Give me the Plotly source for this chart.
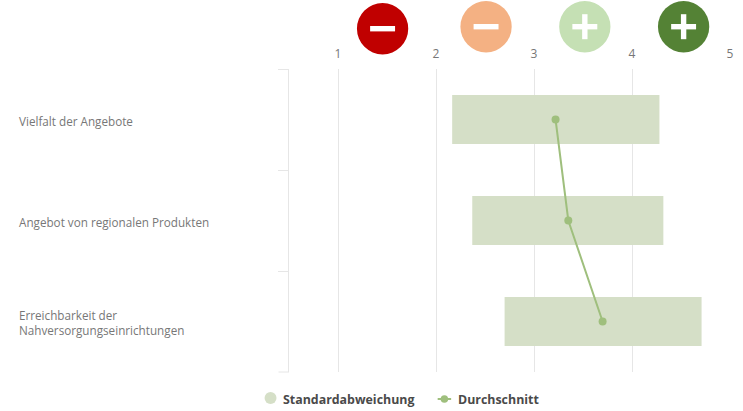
import plotly.graph_objects as go

# values
categories = ["Vielfalt der Angebote", "Angebot von regionalen Produkten", "Erreichbarkeit der<br>Nahversorgungseinrichtungen"]
sd_low = [2.165, 2.37, 2.70]
sd_high = [4.28, 4.32, 4.71]
mean_vals = [3.22, 3.35, 3.70]
x_ticks = [1, 2, 3, 4, 5]
sd_name = "Standardabweichung"
mean_name = "Durchschnitt"

W, H = 743, 411
L, R, T, B = 288.5, 730.5, 69, 372
BAND = "#d5dfc7"
MEAN = "#9fbf7d"
GRID = "#e6e6e6"

def px(x):
    return (x - L) / (R - L)

def py(y):
    return (B - y) / (B - T)

def paper_shape(kind, x0, x1, y0, y1, color):
    return dict(type=kind, xref="paper", yref="paper", layer="above",
                x0=px(x0), x1=px(x1), y0=py(y1), y1=py(y0),
                fillcolor=color, line=dict(width=0))

fig = go.Figure()

# standard deviation bands
fig.add_trace(go.Bar(
    y=categories, x=[h - l for l, h in zip(sd_low, sd_high)], base=sd_low,
    orientation="h", width=0.485, marker=dict(color=BAND, line=dict(width=0)),
    name=sd_name, showlegend=False,
))
fig.add_trace(go.Scatter(
    y=categories, x=mean_vals, mode="lines+markers", name=mean_name, showlegend=False,
    line=dict(color=MEAN, width=2), marker=dict(color=MEAN, size=8),
))

# the four rating icons above the axis
icons = [
    (382.3, 28.7, "#c00000", False),
    (486, 26.7, "#f4b183", False),
    (585, 26.7, "#c5e0b4", True),
    (684, 26.7, "#548235", True),
]
shapes = []
for cx, cy, color, plus in icons:
    shapes.append(paper_shape("circle", cx - 25.7, cx + 25.7, cy - 25.7, cy + 25.7, color))
    shapes.append(paper_shape("rect", cx - 12.5, cx + 12.5, cy - 2.7, cy + 2.7, "white"))
    if plus:
        shapes.append(paper_shape("rect", cx - 2.7, cx + 2.7, cy - 12.5, cy + 12.5, "white"))

# last boundary tick, plotly leaves it out
shapes.append(dict(type="line", xref="paper", yref="paper", layer="below",
                   x0=px(278), x1=px(L), y0=0, y1=0, line=dict(color=GRID, width=1)))

# hand made legend, plotly's line sample is too long
shapes.append(paper_shape("circle", 264, 276, 392, 404, BAND))
shapes.append(dict(type="line", xref="paper", yref="paper", layer="above",
                   x0=px(437.5), x1=px(451), y0=py(399), y1=py(399), line=dict(color=MEAN, width=2)))
shapes.append(paper_shape("circle", 440.5, 448, 395.2, 402.8, MEAN))

annotations = []
# left aligned category labels
for c in categories:
    annotations.append(dict(xref="paper", yref="y", x=px(16), y=c, text=c, showarrow=False,
                            xanchor="left", align="left", yshift=-1,
                            font=dict(family="Open Sans", size=11.7, color="#777777")))
for name, x in [(sd_name, 280), (mean_name, 455.5)]:
    annotations.append(dict(xref="paper", yref="paper", x=px(x), y=py(399), text=name, showarrow=False,
                            xanchor="left", yanchor="middle",
                            font=dict(family="Open Sans", size=12.4, color="#4a4a4a", weight="bold")))

fig.update_layout(
    width=W, height=H,
    margin=dict(l=L, r=W - R, t=T, b=H - B, pad=0, autoexpand=False),
    paper_bgcolor="white", plot_bgcolor="white",
    shapes=shapes, annotations=annotations,
    showlegend=False,
)
fig.update_xaxes(range=[0.5, 5], side="top", tickvals=x_ticks, showgrid=True, gridcolor=GRID,
                 gridwidth=1, zeroline=False, showline=False, ticks="", ticklabelstandoff=8,
                 tickfont=dict(family="Open Sans", size=12, color="#777777"))
fig.update_yaxes(type="category", categoryorder="array", categoryarray=categories,
                 range=[2.5, -0.5], tickson="boundaries", ticks="outside", ticklen=10, tickwidth=1,
                 tickcolor=GRID, showline=True, linecolor=GRID, linewidth=1,
                 showgrid=False, zeroline=False, showticklabels=False)

fig.write_html("out.html", post_script="document.body.style.margin='0';",
               config=dict(displayModeBar=False))
